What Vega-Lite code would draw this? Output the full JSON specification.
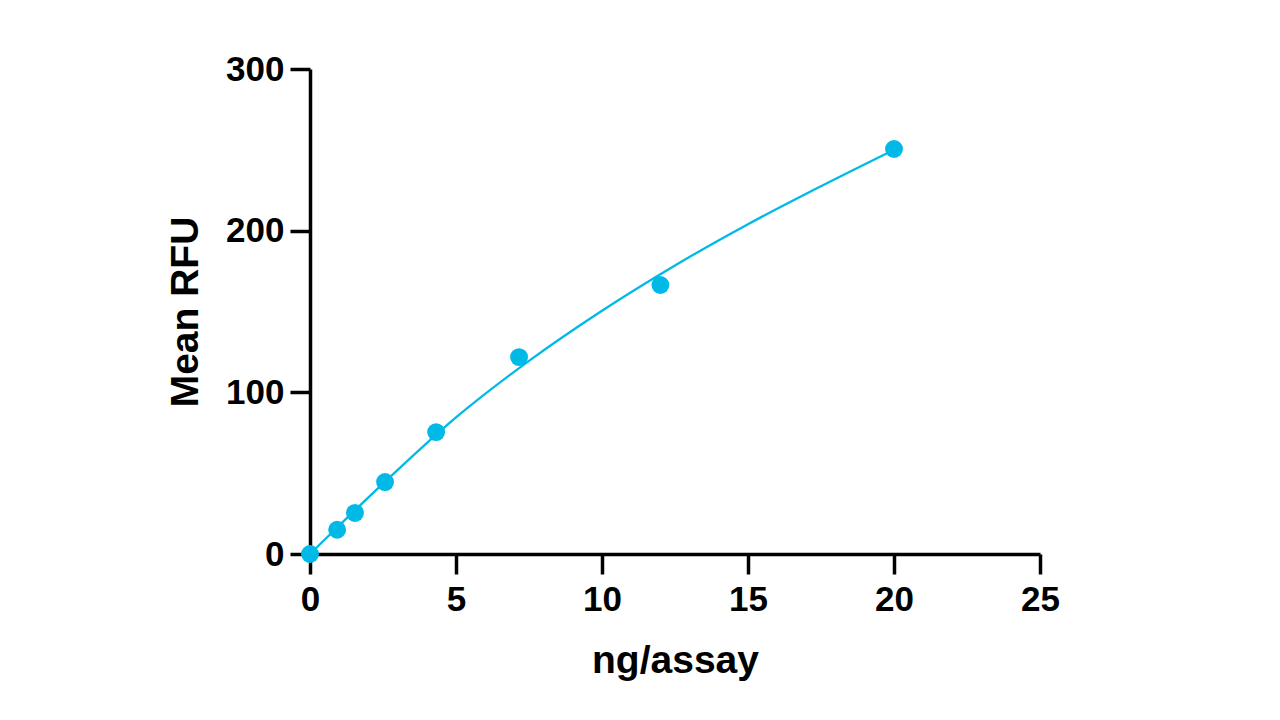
{
  "$schema": "https://vega.github.io/schema/vega-lite/v6.json",
  "width": 730,
  "height": 485,
  "autosize": {"type": "none"},
  "padding": {"left": 310, "top": 69, "right": 240, "bottom": 166},
  "background": "white",
  "config": {
    "view": {"stroke": null},
    "font": "Liberation Sans",
    "axis": {
      "grid": false,
      "domainColor": "black",
      "domainWidth": 3.5,
      "tickColor": "black",
      "tickWidth": 3.5,
      "tickSize": 20,
      "labelFont": "Liberation Sans",
      "labelFontSize": 35,
      "labelFontWeight": "bold",
      "labelColor": "black",
      "labelFlush": false,
      "labelOverlap": false,
      "titleFont": "Liberation Sans",
      "titleFontSize": 39,
      "titleFontWeight": "bold",
      "titleColor": "black"
    }
  },
  "datasets": {
    "points": [
      {"ng": 0, "rfu": 0},
      {"ng": 0.93, "rfu": 15},
      {"ng": 1.54, "rfu": 25.4},
      {"ng": 2.57, "rfu": 44.5},
      {"ng": 4.32, "rfu": 75.4},
      {"ng": 7.16, "rfu": 121.8},
      {"ng": 12.0, "rfu": 166.4},
      {"ng": 20.0, "rfu": 250.5}
    ],
    "curve": [
      {"ng": 0, "rfu": 0},
      {"ng": 1.25, "rfu": 22},
      {"ng": 2.5, "rfu": 43.5},
      {"ng": 5, "rfu": 84.5},
      {"ng": 7.5, "rfu": 119.5},
      {"ng": 10, "rfu": 150.5},
      {"ng": 12.5, "rfu": 178.5},
      {"ng": 15, "rfu": 204},
      {"ng": 17.5, "rfu": 227.5},
      {"ng": 20, "rfu": 250}
    ]
  },
  "layer": [
    {
      "data": {"name": "curve"},
      "mark": {"type": "line", "interpolate": "monotone", "color": "#00B9E6", "strokeWidth": 2.3, "clip": false},
      "encoding": {
        "x": {
          "field": "ng", "type": "quantitative",
          "scale": {"domain": [0, 25], "nice": false, "zero": false},
          "axis": {"title": "ng/assay", "values": [0, 5, 10, 15, 20, 25], "labelPadding": 8, "titlePadding": 24}
        },
        "y": {
          "field": "rfu", "type": "quantitative",
          "scale": {"domain": [0, 300], "nice": false, "zero": false},
          "axis": {"title": "Mean RFU", "values": [0, 100, 200, 300], "labelPadding": 6, "titlePadding": 20}
        }
      }
    },
    {
      "data": {"name": "points"},
      "mark": {"type": "point", "filled": true, "size": 320, "opacity": 1, "color": "#00B9E6", "clip": false},
      "encoding": {
        "x": {"field": "ng", "type": "quantitative"},
        "y": {"field": "rfu", "type": "quantitative"}
      }
    }
  ]
}
